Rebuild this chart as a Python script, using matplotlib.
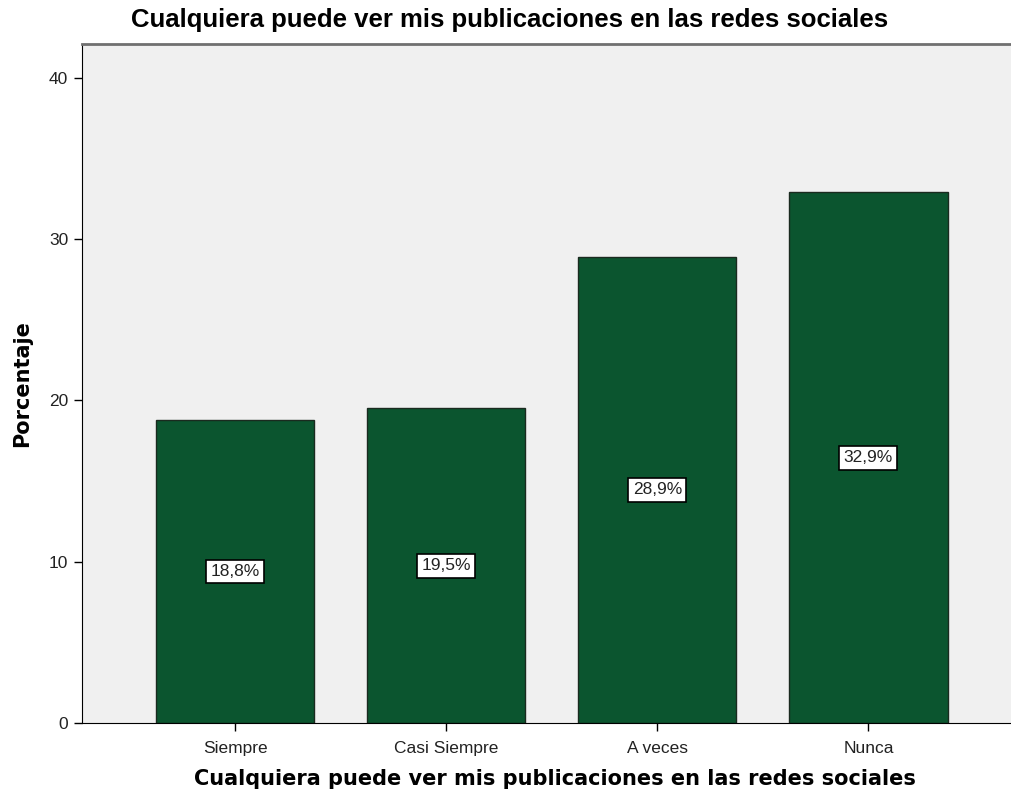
import matplotlib
matplotlib.use("Agg")
import matplotlib.pyplot as plt

categories = ["Siempre", "Casi Siempre", "A veces", "Nunca"]
values = [18.8, 19.5, 28.9, 32.9]
labels = ["18,8%", "19,5%", "28,9%", "32,9%"]
yticks = [0, 10, 20, 30, 40]

fig = plt.figure(figsize=(10.12, 7.99), dpi=100)
ax = fig.add_axes([82/1012, (799-723)/799, (1012-82)/1012, (723-44)/799])
ax.set_facecolor("#f0f0f0")

x = list(range(len(categories)))
ax.bar(x, values, width=0.75, color="#0b552f", edgecolor="#1a2a1f", linewidth=1.0, zorder=2)
for xi, v, lab in zip(x, values, labels):
    ax.text(xi, v / 2, lab, ha="center", va="center", fontsize=12.5, color="#222222",
            family=["Liberation Sans", "DejaVu Sans"], zorder=3,
            bbox=dict(boxstyle="square,pad=0.25", facecolor="white", edgecolor="black", linewidth=1.2))

ax.set_xlim(-0.725, 3.68)
ax.set_ylim(0, 42.1)
ax.set_xticks(x)
ax.set_xticklabels(categories, fontsize=12.5, family=["Liberation Sans", "DejaVu Sans"])
ax.set_yticks(yticks)
ax.set_yticklabels([str(t) for t in yticks], fontsize=12.5, family=["Liberation Sans", "DejaVu Sans"])
ax.tick_params(axis="both", direction="out", length=6, width=1, color="black", pad=4, labelcolor="#222222")
ax.tick_params(axis="x", pad=7)

ax.spines["right"].set_visible(False)
ax.spines["top"].set_color("#707070")
ax.spines["top"].set_linewidth(2)
ax.spines["left"].set_color("black")
ax.spines["bottom"].set_color("black")

ax.set_ylabel("Porcentaje", fontsize=15, fontweight="bold", family="DejaVu Sans", labelpad=12)
ax.set_xlabel("Cualquiera puede ver mis publicaciones en las redes sociales",
              fontsize=15, fontweight="bold", family="DejaVu Sans")
ax.xaxis.set_label_coords((555 - 82) / (1012 - 82), -(769 - 723) / (723 - 44))
fig.text(510/1012, 1 - 20/799, "Cualquiera puede ver mis publicaciones en las redes sociales",
         ha="center", va="center", fontsize=18.5, fontweight="bold",
         family=["Liberation Sans Narrow", "Liberation Sans", "DejaVu Sans"])

fig.savefig("out.png", dpi=100)
